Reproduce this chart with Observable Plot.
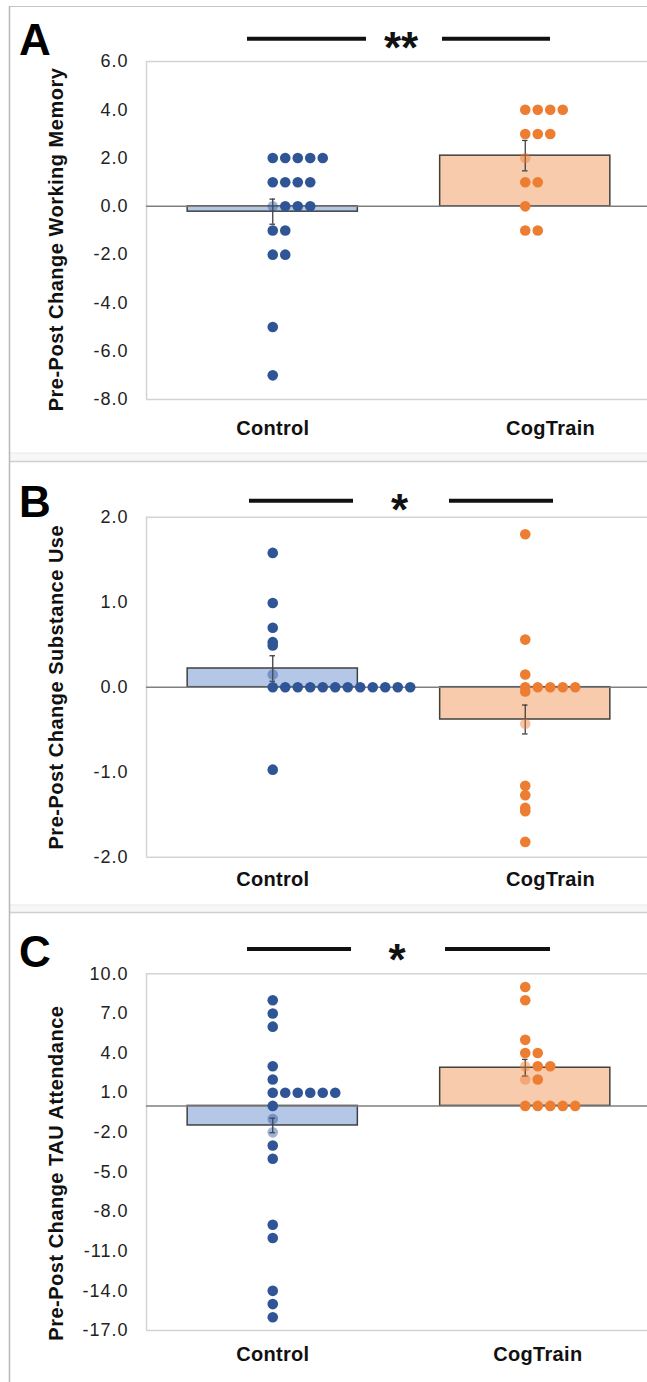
<!DOCTYPE html>
<html>
<head>
<meta charset="utf-8">
<script src="https://cdn.jsdelivr.net/npm/d3@7"></script>
<script src="https://cdn.jsdelivr.net/npm/@observablehq/plot@0.6"></script>
<style>
  body { margin: 0; background: #fff; overflow: hidden; font-family: "Liberation Sans", Arial, sans-serif; }
  #root { position: relative; width: 647px; height: 1382px; }
  .panel { position: absolute; left: 0; }
  .panel svg { display: block; overflow: visible; }
  [aria-label^="y-axis"] text { letter-spacing: 1px; }
  .ylab text { letter-spacing: 0.5px; }
  .catlab text { letter-spacing: 0.3px; }
  #overlay { position: absolute; left: 0; top: 0; pointer-events: none; overflow: visible; }
</style>
</head>
<body>
<div id="root"></div>
<script>
// ---------- data ----------
const categories = ["Control", "CogTrain"];

// Panel A: working memory
const yLabelA = "Pre-Post Change Working Memory";
const yTicksA = [6, 4, 2, 0, -2, -4, -6, -8];
const controlA = [2, 2, 2, 2, 2, 1, 1, 1, 1, 0, 0, 0, 0, -1, -1, -2, -2, -5, -7];
const cogA = [4, 4, 4, 4, 3, 3, 3, 2, 1, 1, 0, -1, -1];
const meanA = [-0.22, 2.1];
const semA = [0.52, 0.63];

// Panel B: substance use
const yLabelB = "Pre-Post Change Substance Use";
const yTicksB = [2, 1, 0, -1, -2];
const controlB = [1.58, 0.99, 0.70, 0.53, 0.49, 0.15, 0, 0, 0, 0, 0, 0, 0, 0, 0, 0, 0, 0, -0.97];
const cogB = [1.80, 0.56, 0.15, 0, 0, 0, 0, 0, -0.05, -0.43, -1.16, -1.27, -1.42, -1.46, -1.82];
const meanB = [0.22, -0.38];
const semB = [0.15, 0.17];

// Panel C: TAU attendance
const yLabelC = "Pre-Post Change TAU Attendance";
const yTicksC = [10, 7, 4, 1, -2, -5, -8, -11, -14, -17];
const controlC = [8, 7, 6, 3, 2, 1, 1, 1, 1, 1, 1, 0, -1, -2, -3, -4, -9, -10, -14, -15, -16];
const cogC = [9, 8, 5, 4, 4, 3, 3, 3, 2, 2, 0, 0, 0, 0, 0];
const meanC = [-1.48, 2.89];
const semC = [0.55, 0.63];

const significance = ["**", "*", "*"];
const panelLetters = ["A", "B", "C"];

// ---------- styling ----------
const dotColors = ["#2f5597", "#ed7d31"];
const barColors = ["#b4c7e7", "#f8cbad"];
const ink = "#404040";

const panels = [
  {letter: panelLetters[0], sig: significance[0], label: yLabelA, ticks: yTicksA, groups: [controlA, cogA], mean: meanA, sem: semA,
   top: 0, height: 455, mt: 61, mb: 56, catDy: 21, labelShift: 0.1, yLabelDy: 9},
  {letter: panelLetters[1], sig: significance[1], label: yLabelB, ticks: yTicksB, groups: [controlB, cogB], mean: meanB, sem: semB,
   top: 458, height: 450, mt: 58.7, mb: 51.3, catDy: 14.5, labelShift: 0.1, yLabelDy: 0},
  {letter: panelLetters[2], sig: significance[2], label: yLabelC, ticks: yTicksC, groups: [controlC, cogC], mean: meanC, sem: semC,
   top: 910, height: 472, mt: 63.3, mb: 52, catDy: 16.5, labelShift: 0.05, yLabelDy: 21}
];

const root = document.getElementById("root");
const dotStep = 0.0495;   // horizontal offset between stacked equal-valued dots (in category units)
const halfBar = 0.337;
const capHalf = 0.011;

function buildPanel(p) {
  const yMax = d3.max(p.ticks), yMin = d3.min(p.ticks);
  const pxPerUnit = (p.height - p.mt - p.mb) / (yMax - yMin);
  const tol = 4 / pxPerUnit;
  const dots = [];
  p.groups.forEach((vals, c) => {
    const counter = new Map();
    vals.forEach(v => {
      const k = v.toFixed(3);
      const rank = counter.get(k) || 0;
      counter.set(k, rank + 1);
      const lo = p.mean[c] - p.sem[c] - tol, hi = p.mean[c] + p.sem[c] + tol;
      dots.push({cat: c, v, rank, faded: rank === 0 && v >= lo && v <= hi});
    });
  });
  const bars = categories.map((name, i) => ({i, name, mean: p.mean[i], sem: p.sem[i]}));

  const marks = [
    // frame (top, bottom, left)
    Plot.ruleY([yMin, yMax], {stroke: "#d3d3d3", strokeWidth: 1.5}),
    Plot.ruleX([-0.5], {stroke: "#d3d3d3", strokeWidth: 1.5}),
    // bars
    ...bars.map(b => Plot.rect([b], {x1: d => d.i - halfBar, x2: d => d.i + halfBar, y1: 0, y2: d => d.mean,
      fill: barColors[b.i], stroke: ink, strokeWidth: 1.5})),
    // zero line
    Plot.ruleY([0], {stroke: "#7f7f7f", strokeWidth: 1.5}),
    // error bars
    Plot.ruleX(bars, {x: "i", y1: d => d.mean - d.sem, y2: d => d.mean + d.sem, stroke: ink, strokeWidth: 1.3}),
    Plot.ruleY(bars, {x1: d => d.i - capHalf, x2: d => d.i + capHalf, y: d => d.mean + d.sem, stroke: ink, strokeWidth: 1.3}),
    Plot.ruleY(bars, {x1: d => d.i - capHalf, x2: d => d.i + capHalf, y: d => d.mean - d.sem, stroke: ink, strokeWidth: 1.3}),
    // dots
    ...[0, 1].map(c => Plot.dot(dots, {filter: d => d.cat === c && !d.faded, x: d => d.cat + d.rank * dotStep, y: "v",
      r: 5.3, fill: dotColors[c], stroke: "none"})),
    ...[0, 1].map(c => Plot.dot(dots, {filter: d => d.cat === c && d.faded, x: d => d.cat + d.rank * dotStep, y: "v",
      r: 5.3, fill: dotColors[c], fillOpacity: 0.45, stroke: "none"})),
    // category labels
    Plot.text(categories, {x: (d, i) => i + i * p.labelShift, frameAnchor: "bottom", lineAnchor: "top", dy: p.catDy,
      text: d => d, fontSize: 20, fontWeight: "bold", fill: "#111", className: "catlab"}),
    // y label
    Plot.text([p.label], {frameAnchor: "left", textAnchor: "middle", lineAnchor: "middle", rotate: -90, dx: -90, dy: p.yLabelDy,
      text: d => d, fontSize: 20, fontWeight: "bold", fill: "#111", className: "ylab"})
  ];

  const chart = Plot.plot({
    width: 647,
    height: p.height,
    marginLeft: 146,
    marginRight: 0,
    marginTop: p.mt,
    marginBottom: p.mb,
    x: {domain: [-0.5, 1.5], range: [146, 651], axis: null},
    y: {domain: [yMin, yMax], ticks: p.ticks, tickFormat: d => d.toFixed(1), tickSize: 0, tickPadding: 18, label: null},
    style: {fontFamily: "'Liberation Sans', Arial, sans-serif", fontSize: "18px", color: "#222", background: "transparent", overflow: "visible"},
    marks
  });
  const div = document.createElement("div");
  div.className = "panel";
  div.style.top = p.top + "px";
  div.appendChild(chart);
  root.appendChild(div);
}

panels.forEach(buildPanel);

// ---------- overlay: panel borders, letters, significance bars ----------
const ov = d3.select(root).append("svg").attr("id", "overlay").attr("width", 647).attr("height", 1382);
[[453, 461.5], [905, 912.5]].forEach(([a, b]) => {
  ov.append("rect").attr("x", 10).attr("y", a).attr("width", 640).attr("height", b - a).attr("fill", "#f7f7f7");
  ov.append("line").attr("x1", 10).attr("x2", 647).attr("y1", a).attr("y2", a).attr("stroke", "#e9e9e9").attr("stroke-width", 1);
  ov.append("line").attr("x1", 10).attr("x2", 647).attr("y1", b).attr("y2", b).attr("stroke", "#cfcfcf").attr("stroke-width", 1.5);
});
ov.append("line").attr("x1", 9.5).attr("x2", 647).attr("y1", 6.5).attr("y2", 6.5).attr("stroke", "#c4c4c4").attr("stroke-width", 1.2);
ov.append("line").attr("x1", 9.5).attr("x2", 9.5).attr("y1", 6).attr("y2", 1382).attr("stroke", "#b8b8b8").attr("stroke-width", 1.5);

const annot = [
  {letterY: 55, lineY: 38.7, l1: [247, 366], l2: [442, 550], starX: 401, starY: 63},
  {letterY: 517, lineY: 500.7, l1: [249, 353], l2: [449, 553], starX: 399.5, starY: 525},
  {letterY: 967, lineY: 949, l1: [247, 351], l2: [445, 550], starX: 397, starY: 975}
];
annot.forEach((a, i) => {
  ov.append("text").attr("x", 19).attr("y", a.letterY).attr("font-size", 44).attr("font-weight", "bold")
    .attr("font-family", "'Liberation Sans', Arial, sans-serif").attr("fill", "#000").text(panels[i].letter);
  [a.l1, a.l2].forEach(([x1, x2]) => ov.append("line").attr("x1", x1).attr("x2", x2).attr("y1", a.lineY).attr("y2", a.lineY)
    .attr("stroke", "#111").attr("stroke-width", 4));
  ov.append("text").attr("x", a.starX).attr("y", a.starY).attr("text-anchor", "middle").attr("font-size", 44)
    .attr("font-weight", "bold").attr("font-family", "'Liberation Sans', Arial, sans-serif").attr("fill", "#111").text(panels[i].sig);
});
</script>
</body>
</html>
